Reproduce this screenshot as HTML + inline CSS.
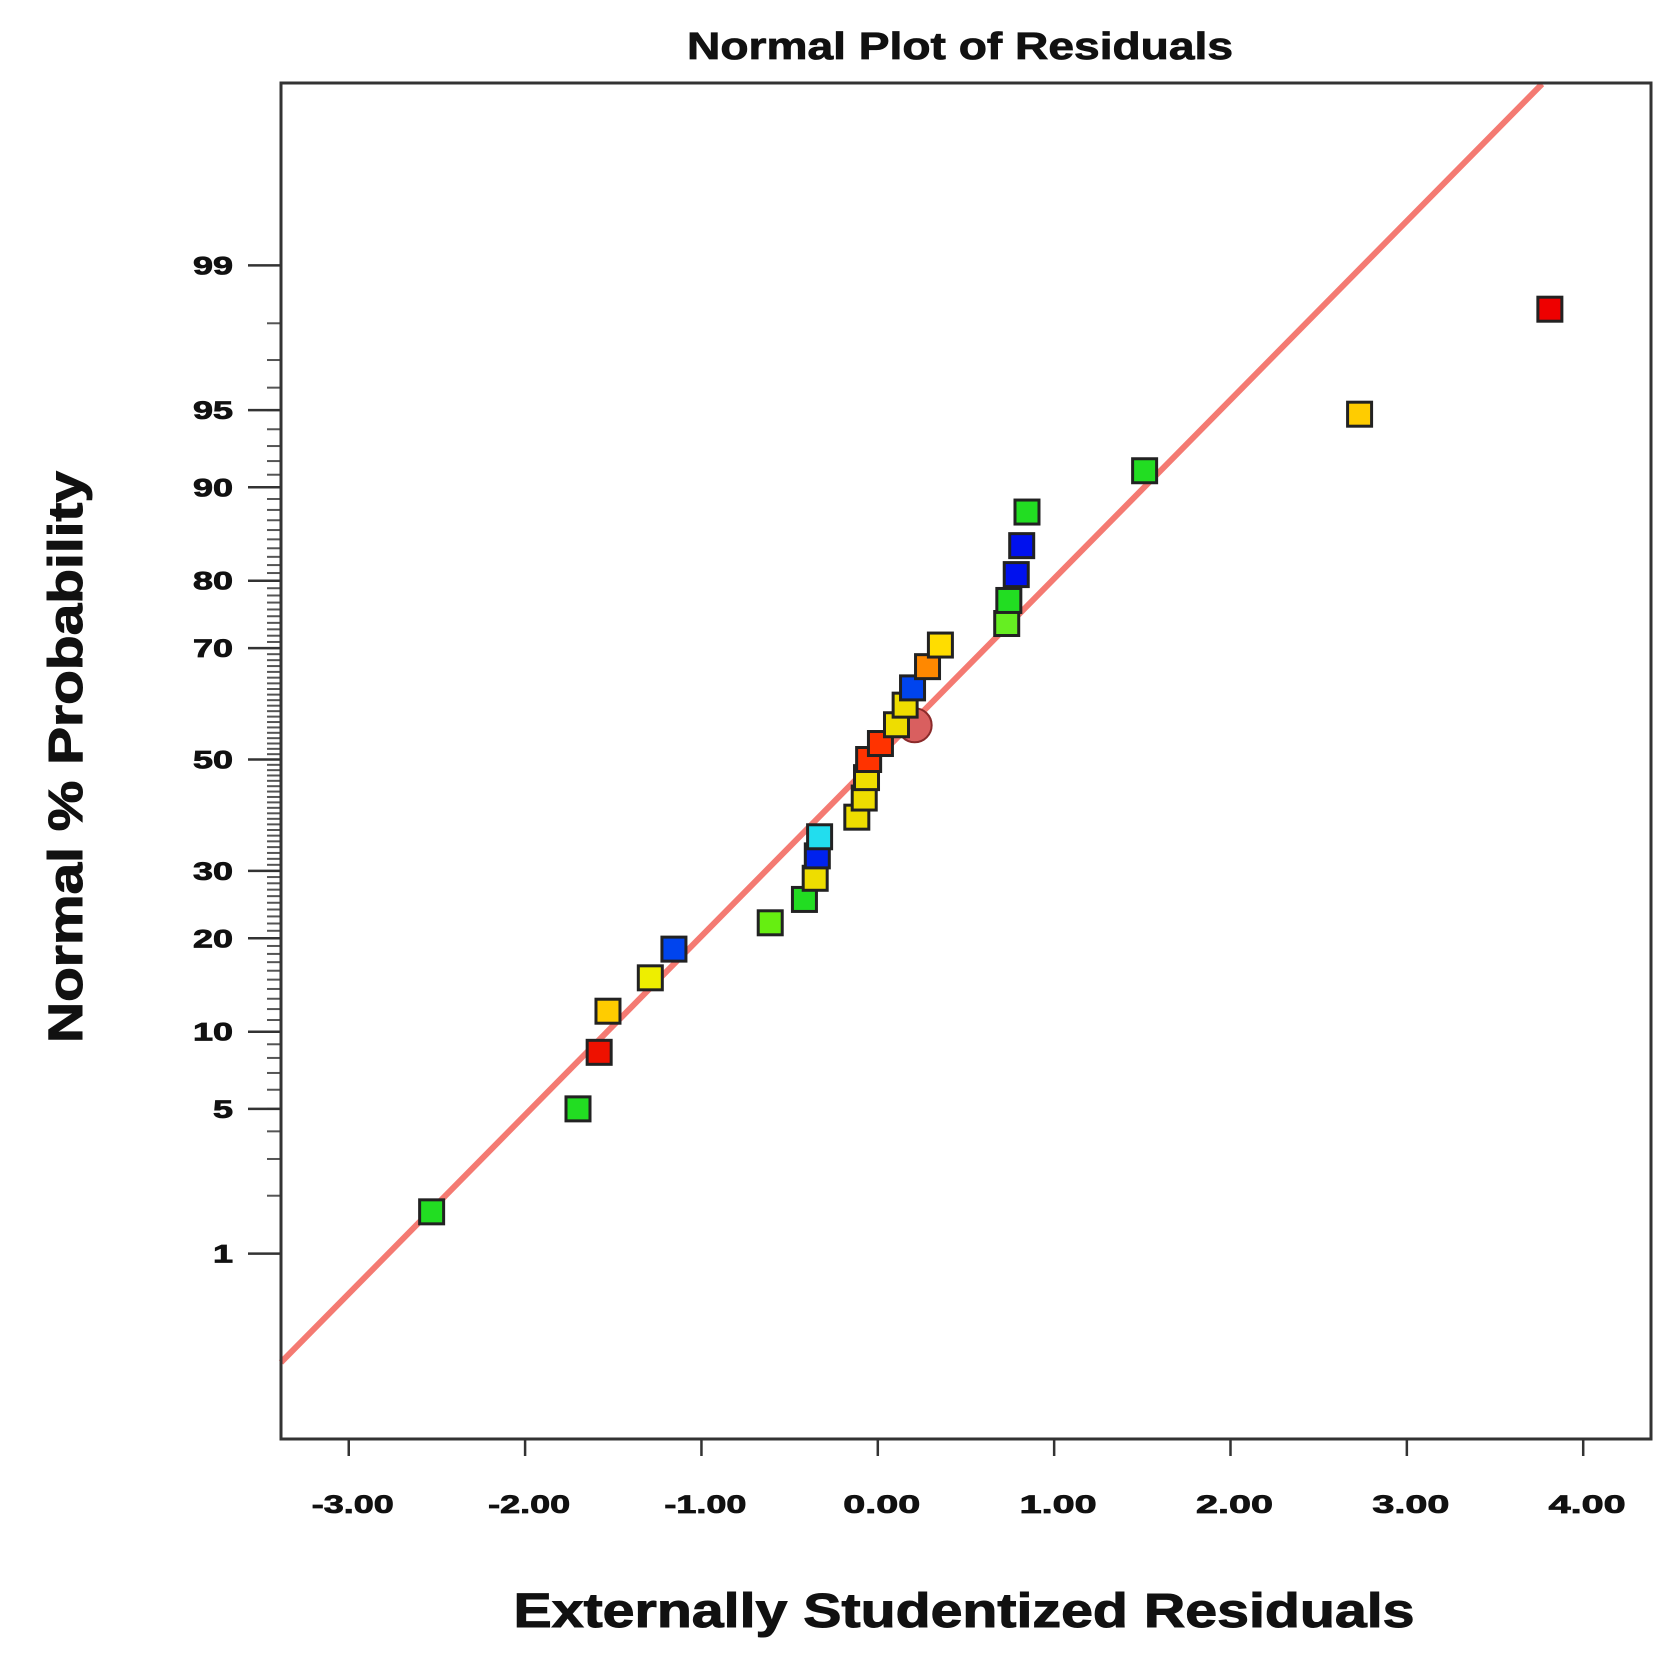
<!DOCTYPE html>
<html><head><meta charset="utf-8"><style>
body{margin:0;background:#fff;}
svg text{font-family:"Liberation Sans",sans-serif;font-weight:bold;fill:#111;}
</style></head><body>
<svg id="c" width="1658" height="1672" viewBox="0 0 1658 1672" xmlns="http://www.w3.org/2000/svg">
<text x="960" y="59" font-size="38" text-anchor="middle" textLength="546" lengthAdjust="spacingAndGlyphs" stroke="#111" stroke-width="0.8">Normal Plot of Residuals</text>
<text x="964" y="1627" font-size="48" text-anchor="middle" textLength="901" lengthAdjust="spacingAndGlyphs" stroke="#111" stroke-width="1">Externally Studentized Residuals</text>
<text transform="translate(82,757) rotate(-90)" font-size="48" text-anchor="middle" textLength="572" lengthAdjust="spacingAndGlyphs" stroke="#111" stroke-width="1">Normal % Probability</text>
<g id="axes"></g><g id="marks"></g>
<rect x="281" y="83" width="1370" height="1356" fill="none" stroke="#333" stroke-width="3"/>
</svg>
<script>
const residuals=[-2.53,-1.70,-1.58,-1.53,-1.29,-1.156,-0.61,-0.416,-0.355,-0.343,-0.33,-0.119,-0.077,-0.064,-0.052,0.015,0.106,0.155,0.197,0.282,0.355,0.731,0.743,0.785,0.816,0.846,1.513,2.732,3.811];
const probabilities=[1.66,5.0,8.4,11.8,15.2,18.6,22.1,25.5,28.8,32.5,35.8,39.3,42.8,46.6,50,53,56.5,60.1,63.2,66.9,70.5,73.9,77.3,80.8,84.3,87.8,91.3,94.8,98.3];
const colors=["#22dd22","#22dd22","#ee1100","#ffcc00","#eeee00","#0044ee","#66ee11","#22dd22","#eedd00","#0022ee","#22ddee","#eedd00","#eedd00","#eedd00","#ff3300","#ff3300","#eedd00","#eedd00","#0044ee","#ff8800","#ffdd00","#66ee22","#22dd22","#0011ee","#0011ee","#22dd22","#22dd22","#ffcc00","#ee0000"];
const highlightX=[0.209];const highlightP=[56.4];
const xTicks=[-3,-2,-1,0,1,2,3,4];
const xTickLabels=["-3.00","-2.00","-1.00","0.00","1.00","2.00","3.00","4.00"];
const yTicks=[1,5,10,20,30,50,70,80,90,95,99];
const yTickLabels=["1","5","10","20","30","50","70","80","90","95","99"];
const lineSlope=[0.8417];const lineIntercept=[0.010];
const NS="http://www.w3.org/2000/svg";
function ppf(p){p=p/100;const a=[-39.6968302866538,220.946098424521,-275.928510446969,138.357751867269,-30.6647980661472,2.50662827745924],b=[-54.4760987982241,161.585836858041,-155.698979859887,66.8013118877197,-13.2806815528857],c=[-0.00778489400243029,-0.322396458041136,-2.40075827716184,-2.54973253934373,4.37466414146497,2.93816398269878],d=[0.00778469570904146,0.32246712907004,2.445134137143,3.75440866190742];let q,r;
if(p<0.02425){q=Math.sqrt(-2*Math.log(p));return(((((c[0]*q+c[1])*q+c[2])*q+c[3])*q+c[4])*q+c[5])/((((d[0]*q+d[1])*q+d[2])*q+d[3])*q+1);}
if(p>1-0.02425){q=Math.sqrt(-2*Math.log(1-p));return-(((((c[0]*q+c[1])*q+c[2])*q+c[3])*q+c[4])*q+c[5])/((((d[0]*q+d[1])*q+d[2])*q+d[3])*q+1);}
q=p-0.5;r=q*q;return(((((a[0]*r+a[1])*r+a[2])*r+a[3])*r+a[4])*r+a[5])*q/(((((b[0]*r+b[1])*r+b[2])*r+b[3])*r+b[4])*r+1);}
const X=v=>877.8+v*176.35;
const YZ=z=>759.5-z*212.4;
const Y=p=>YZ(ppf(p));
function mk(t,at,parent){const e=document.createElementNS(NS,t);for(const k in at)e.setAttribute(k,at[k]);parent.appendChild(e);return e;}
const axes=document.getElementById('axes'),marks=document.getElementById('marks');
const minor=[];for(let p=2;p<=98;p++)minor.push(p);
minor.forEach(p=>{const y=Y(p);const e=mk('line',{x1:267,x2:281,y1:y,y2:y,stroke:'#555','stroke-width':2},axes);

});
yTicks.forEach((p,i)=>{const y=Y(p);const l=mk('line',{x1:248,x2:281,y1:y,y2:y,stroke:'#333','stroke-width':2.5},axes);


const s=yTickLabels[i];
const t=mk('text',{x:233,y:y+9,'font-size':25,'text-anchor':'end',textLength:s.length*20,lengthAdjust:'spacingAndGlyphs',stroke:'#111','stroke-width':0.8},axes);t.textContent=s;

});
xTicks.forEach((v,i)=>{const x=X(v);const l=mk('line',{x1:x,x2:x,y1:1439,y2:1456,stroke:'#333','stroke-width':2.5},axes);


const s=xTickLabels[i];
const w=s.length*17+(s[0]==='-'?-3:9);
const t=mk('text',{x:x+4,y:1513,'font-size':25,'text-anchor':'middle',textLength:w,lengthAdjust:'spacingAndGlyphs',stroke:'#111','stroke-width':0.8},axes);t.textContent=s;

});
const x0=(281-877.8)/176.35;
const x1c=((759.5-84)/212.4-lineIntercept[0])/lineSlope[0];
const fl=mk('line',{x1:X(x0),y1:YZ(lineSlope[0]*x0+lineIntercept[0]),x2:X(x1c),y2:YZ(lineSlope[0]*x1c+lineIntercept[0]),stroke:'#f47a72','stroke-width':6},marks);


highlightX.forEach((v,i)=>{const c=mk('circle',{cx:X(v),cy:Y(highlightP[i]),r:17,fill:'#d95f5f',stroke:'#8a2a2a','stroke-width':2},marks);

});
residuals.forEach((v,i)=>{const s=24;const r=mk('rect',{x:X(v)-s/2,y:Y(probabilities[i])-s/2,width:s,height:s,fill:colors[i],stroke:'#222','stroke-width':3},marks);

});
</script>
</body></html>
